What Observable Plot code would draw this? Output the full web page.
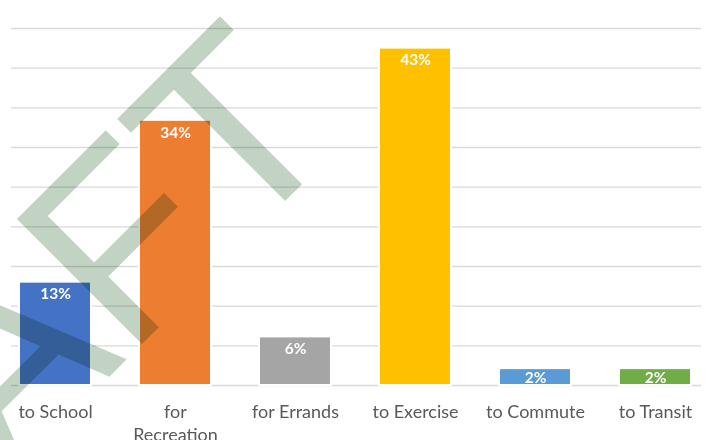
<!DOCTYPE html>
<html>
<head>
<meta charset="utf-8">
<script src="https://cdn.jsdelivr.net/npm/d3@7"></script>
<script src="https://cdn.jsdelivr.net/npm/@observablehq/plot@0.6"></script>
<style>
  html, body { margin: 0; padding: 0; background: white; }
  #chart svg { display: block; }
</style>
</head>
<body>
<div id="chart"></div>
<script>
const categories = ["to School", "for Recreation", "for Errands", "to Exercise", "to Commute", "to Transit"];
const values = [12.9, 33.3, 6.0, 42.4, 2.0, 2.0];
const valueLabels = ["13%", "34%", "6%", "43%", "2%", "2%"];
const tickLabels = ["to School", "for\nRecreation", "for Errands", "to Exercise", "to Commute", "to Transit"];
const gridTicks = [0, 5, 10, 15, 20, 25, 30, 35, 40, 45];
const colors = ["#4472C4", "#ED7D31", "#A5A5A5", "#FFC000", "#5B9BD5", "#70AD47"];
const watermark = ["DRAFT"];

const rows = categories.map((c, i) => ({category: c, value: values[i], label: valueLabels[i], tick: tickLabels[i]}));

const chart = Plot.plot({
  width: 715,
  height: 440,
  marginTop: 28,
  marginBottom: 55,
  marginLeft: 11,
  marginRight: 14,
  x: {domain: categories, range: [-7.35, 716.85], paddingInner: 0.42, paddingOuter: 0.21, axis: null},
  y: {domain: [0, 45], axis: null},
  color: {domain: categories, range: colors},
  style: {fontFamily: "Lato", background: "white"},
  marks: [
    Plot.ruleY(gridTicks, {stroke: "#d9d9d9", strokeWidth: 1.3}),
    Plot.barY(rows, {x: "category", y: "value", fill: "category", stroke: "white", strokeWidth: 2, insetLeft: -1, insetRight: -1, insetTop: -1}),
    Plot.text(rows, {x: "category", text: "tick", frameAnchor: "bottom", lineAnchor: "top", dy: 15.7, fontSize: 18, fill: "#595959", lineHeight: 1.3}),
    Plot.text(rows.filter(d => d.value > 3), {x: "category", y: "value", text: "label", lineAnchor: "top", dy: 5.3, fill: "white", fontWeight: "bold", fontSize: 15.5}),
    Plot.text(rows.filter(d => d.value <= 3), {x: "category", y: "value", text: "label", lineAnchor: "top", dy: 2.8, fill: "white", fontWeight: "bold", fontSize: 15.5}),
    Plot.text(watermark, {frameAnchor: "top-left", dx: 337.6, dy: 108.5, rotate: -45, textAnchor: "end", lineAnchor: "bottom", fontSize: 257, fontFamily: "Liberation Sans", fill: "#c2d3c4", mixBlendMode: "multiply"})
  ]
});
document.getElementById("chart").append(chart);
</script>
</body>
</html>
